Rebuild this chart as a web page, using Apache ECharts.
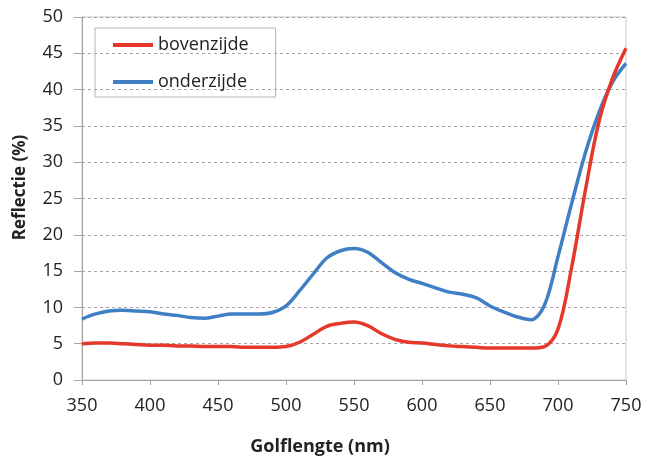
<!DOCTYPE html>
<html>
<head>
<meta charset="utf-8">
<script src="https://cdn.jsdelivr.net/npm/echarts@6/dist/echarts.min.js"></script>
<style>
  html, body { margin: 0; padding: 0; background: #fff; }
  #chart { width: 646px; height: 461px; }
</style>
</head>
<body>
<div id="chart"></div>
<script>
// Wavelength samples (nm)
const wavelengths = [350, 360, 370, 380, 390, 400, 410, 420, 430, 440,
                     450, 460, 470, 480, 490, 500, 510, 520, 530, 540,
                     550, 560, 570, 580, 590, 600, 610, 620, 630, 640,
                     650, 660, 670, 680, 690, 700, 710, 720, 730, 740, 750];

// Reflectance of the upper side (%)
const bovenzijde = [5.0, 5.1, 5.1, 5.0, 4.9, 4.8, 4.8, 4.7, 4.7, 4.6,
                    4.6, 4.6, 4.5, 4.5, 4.5, 4.6, 5.2, 6.3, 7.4, 7.8,
                    8.0, 7.5, 6.4, 5.6, 5.2, 5.1, 4.9, 4.7, 4.6, 4.5,
                    4.4, 4.4, 4.4, 4.4, 4.6, 7.0, 15.5, 26.0, 35.5, 41.5, 45.7];

// Reflectance of the lower side (%)
const onderzijde = [8.4, 9.1, 9.5, 9.6, 9.5, 9.4, 9.1, 8.9, 8.6, 8.5,
                    8.8, 9.1, 9.1, 9.1, 9.3, 10.2, 12.3, 14.6, 16.8, 17.8,
                    18.1, 17.6, 16.2, 14.8, 13.9, 13.3, 12.7, 12.1, 11.8, 11.3,
                    10.2, 9.4, 8.7, 8.3, 10.3, 17.0, 24.3, 31.2, 36.8, 41.0, 43.6];

const seriesNames = ['bovenzijde', 'onderzijde'];
const seriesColors = ['#e5382b', '#3f80c4'];

const font = '"Open Sans", "DejaVu Sans", sans-serif';
const textColor = '#222';

function pairs(ys) {
  return wavelengths.map((x, i) => [x, ys[i]]);
}

const chart = echarts.init(document.getElementById('chart'));
chart.setOption({
  animation: false,
  backgroundColor: '#ffffff',
  grid: {
    left: 82, right: 20, top: 17, bottom: 81,
    show: true,
    borderColor: '#cdc6c6',
    borderWidth: 1
  },
  legend: {
    orient: 'vertical',
    left: 95,
    top: 28,
    padding: [8, 27, 6, 18],
    itemGap: 19,
    itemWidth: 40,
    itemHeight: 4,
    icon: 'rect',
    borderColor: '#b8b2b2',
    borderWidth: 1,
    textStyle: { fontFamily: font, fontSize: 18, color: textColor },
    data: seriesNames
  },
  xAxis: {
    type: 'value',
    min: 350, max: 750, interval: 50,
    name: 'Golflengte (nm)',
    nameLocation: 'middle',
    nameGap: 58,
    nameTextStyle: {
      fontFamily: font, fontSize: 18, fontWeight: 'bold', color: textColor,
      padding: [0, 68, 0, 0]
    },
    axisLine: { show: true, lineStyle: { color: '#a8a1a1', width: 1 } },
    axisTick: { show: true, length: 5, lineStyle: { color: '#a8a1a1' } },
    axisLabel: { fontFamily: font, fontSize: 18, color: textColor, margin: 17 },
    splitLine: { show: false }
  },
  yAxis: {
    type: 'value',
    min: 0, max: 50, interval: 5,
    name: 'Reflectie (%)',
    nameLocation: 'middle',
    nameGap: 53,
    nameTextStyle: {
      fontFamily: font, fontSize: 17, fontWeight: 'bold', color: textColor,
      padding: [0, 0, 0, 22]
    },
    axisLine: { show: true, lineStyle: { color: '#a8a1a1', width: 1 } },
    axisTick: { show: true, length: 8, lineStyle: { color: '#a8a1a1' } },
    axisLabel: { fontFamily: font, fontSize: 18, color: textColor, margin: 19 },
    splitLine: { show: true, lineStyle: { color: '#a8a2a2', type: [3, 3], width: 1 } }
  },
  series: [
    {
      name: seriesNames[0],
      type: 'line',
      data: pairs(bovenzijde),
      smooth: 0.35,
      symbol: 'none',
      color: seriesColors[0],
      lineStyle: { width: 3.5, color: seriesColors[0] },
      z: 3
    },
    {
      name: seriesNames[1],
      type: 'line',
      data: pairs(onderzijde),
      smooth: 0.35,
      symbol: 'none',
      color: seriesColors[1],
      lineStyle: { width: 3.5, color: seriesColors[1] },
      z: 2
    }
  ]
});
</script>
</body>
</html>
